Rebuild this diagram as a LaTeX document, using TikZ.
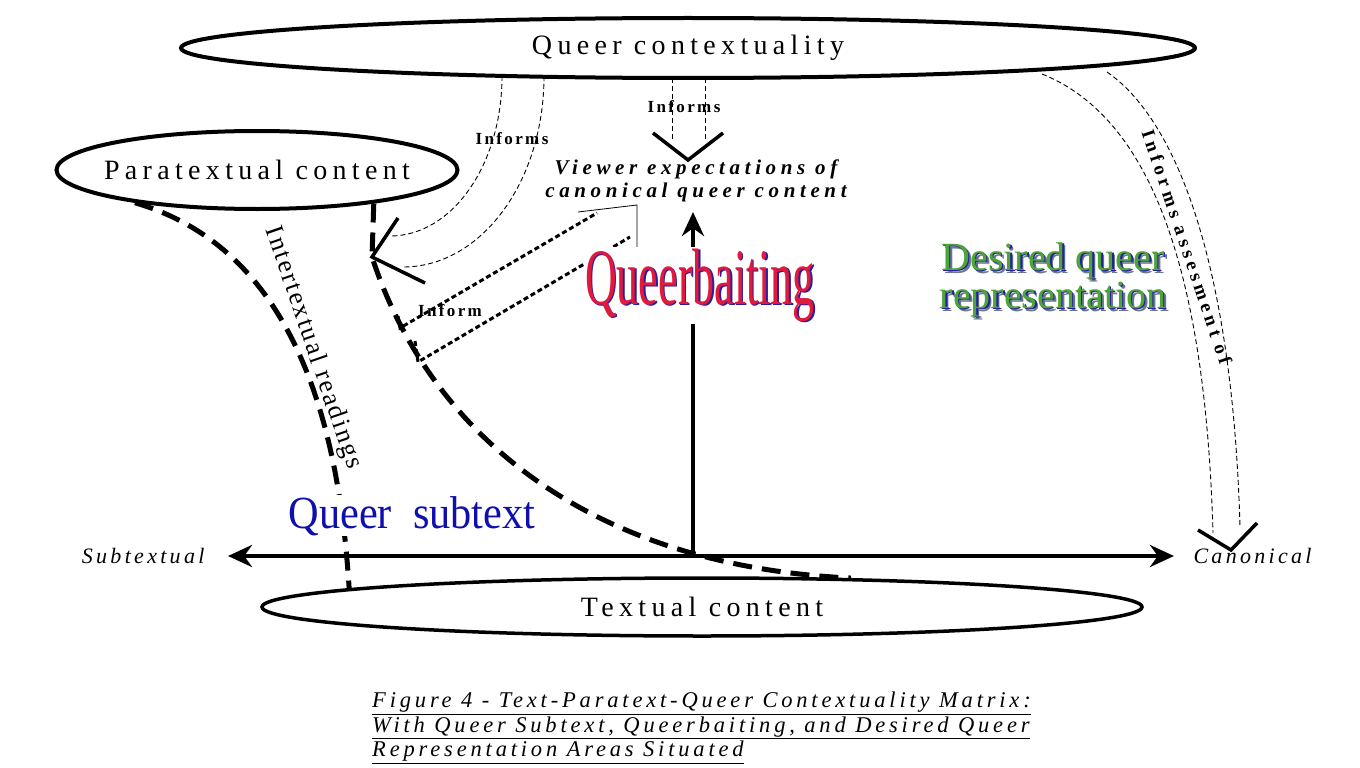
\documentclass[tikz,border=0pt]{standalone}
\usepackage{fontspec}
\usepackage{graphicx}
\setmainfont{Liberation Serif}
\usetikzlibrary{positioning,shapes.geometric,arrows.meta}
\definecolor{baitred}{RGB}{225,25,60}
\definecolor{edgeblue}{RGB}{40,30,160}
\definecolor{subblue}{RGB}{15,15,175}
\definecolor{wishgreen}{RGB}{75,165,55}
\definecolor{wishshade}{RGB}{105,120,140}
\newcommand\edged[3]{\makebox[0pt][l]{\hspace{1.5pt}\raisebox{-1.5pt}{\textcolor{#1}{#3}}}\textcolor{#2}{#3}}
\newcommand\wishline[1]{\makebox[0pt][l]{\hspace{3pt}\raisebox{-3pt}{\textcolor{wishshade}{#1}}}\edged{edgeblue}{wishgreen}{#1}}

\begin{document}
\begin{tikzpicture}[x=1pt,y=-1pt,>={Stealth[length=24pt,width=22pt]},
  blob/.style={draw,ellipse,line width=4pt,inner sep=0pt,font=\fontsize{28}{32}\selectfont\addfontfeatures{LetterSpace=19}},
  axis/.style={line width=4pt},
  border/.style={line width=5pt,dash pattern=on 19pt off 10pt},
  hint/.style={line width=0.9pt,dash pattern=on 5pt off 3pt},
  hollow/.style={line width=3pt,dash pattern=on 5pt off 3pt},
  vee/.style={line width=3.5pt},
  tag/.style={font=\bfseries\fontsize{17}{17}\selectfont\addfontfeatures{LetterSpace=14}},
  pole/.style={font=\itshape\fontsize{22}{22}\selectfont\addfontfeatures{LetterSpace=15}}]
\useasboundingbox (0,0) rectangle (1360,768);

% the three contents
\node (qc) [blob,minimum width=1014pt,minimum height=60pt] at (688,48) {Queer contextuality};
\node (para) [blob,inner xsep=-40pt,minimum width=401pt,minimum height=78pt] at (257,170) {Paratextual content};
\node (txt) [blob,line width=3.5pt,minimum width=880pt,minimum height=58pt] at (702,607) {Textual content};

% axes
\coordinate (o) at (693,556);
\coordinate (axl) at (228,556);
\coordinate (axr) at (1174,556);
\coordinate (axu) at (693,212);
\draw[axis,<->] (axl) -- (axr);
\draw[axis,->] (o) -- (axu);
\node (subl) [pole,left=20pt of axl] {Subtextual};
\node (canl) [pole,right=16pt of axr] {Canonical};

% intertextual boundaries
\coordinate (tipP) at (372,257);
\draw[border] (para.195) .. controls (259,239) and (335,358) .. (txt.177);
\draw[border] (para.-16) -- (tipP) .. controls (431,437) and (592,566) .. (txt.11);
\node (inter) [rotate=-71,font=\fontsize{26}{26}\selectfont\addfontfeatures{LetterSpace=8}] at (313,348) {Intertextual readings};

% informs paratext
\draw[hint] ([shift={(-186,28)}]qc.center) .. controls (502,165) and (452,236) .. ([shift={(18,-21)}]tipP);
\draw[hint] ([shift={(-144,28)}]qc.center) .. controls (544,182) and (481,267) .. ([shift={(31,10)}]tipP);
\draw[vee] ([shift={(26,-39)}]tipP) -- (tipP) -- ([shift={(53,26)}]tipP);
\node (inf1) [tag] at (512,139) {Informs};

% informs expectations
\coordinate (tipV) at (688,160);
\draw[hint] ([shift={(-16,30)}]qc.center) -- ([shift={(-16,-20)}]tipV);
\draw[hint] ([shift={(17,30)}]qc.center) -- ([shift={(17,-20)}]tipV);
\draw[vee] ([shift={(-35,-27)}]tipV) -- (tipV) -- ([shift={(35,-27)}]tipV);
\node (inf2) [tag] at (684,107) {Informs};
\node (view) [align=center,font=\bfseries\itshape\fontsize{21}{23}\selectfont\addfontfeatures{LetterSpace=22}] at (696,181) {Viewer expectations of\\canonical queer content};

% inform back to the boundary
\draw[hollow] (398,316) -- (400,328) -- (597,213);
\draw[hollow] (415,341) -- (418,362) -- (630,237);
\draw[line width=0.8pt] (578,212) -- (637,205) -- (637,248);
\node (inf3) [tag] at (450,311) {Inform};

% informs assesment
\coordinate (tipC) at (1231,550);
\draw[hint] ([shift={(354,26)}]qc.center) .. controls (1144,115) and (1205,253) .. ([shift={(-18,-17)}]tipC);
\draw[hint] ([shift={(419,24)}]qc.center) .. controls (1181,123) and (1233,277) .. ([shift={(9,-23)}]tipC);
\draw[vee] ([shift={(-33,-20)}]tipC) -- (tipC) -- ([shift={(26,-27)}]tipC);
\node (assess) [rotate=-71.4,font=\bfseries\fontsize{19}{19}\selectfont\addfontfeatures{LetterSpace=23}] at (1187,247) {Informs assesment of};

% areas
\node (subtx) [anchor=base,fill=white,text=subblue,inner sep=1pt,font=\fontsize{46}{46}\selectfont] at (412,528) {\scalebox{0.92}[1]{Queer\ \ subtext}};
\node (bait) [anchor=base,fill=white,inner sep=1pt,font=\fontsize{80}{80}\selectfont] at (700,304) {\edged{edgeblue}{baitred}{\scalebox{0.55}[1]{Queerbaiting}}};
\node (wish) [align=center,font=\fontsize{40}{38}\selectfont] at (1053,281) {\wishline{Desired queer}\\\wishline{representation}};

% caption
\node (cap) [anchor=north west,align=left,inner sep=0pt,font=\itshape\fontsize{22.5}{24.5}\selectfont\addfontfeatures{LetterSpace=17}] at (372,692)
  {\underline{Figure 4 - Text-Paratext-Queer Contextuality Matrix:}\\
   \underline{With Queer Subtext, Queerbaiting, and Desired Queer}\\
   \underline{Representation Areas Situated}};
\end{tikzpicture}
\end{document}
